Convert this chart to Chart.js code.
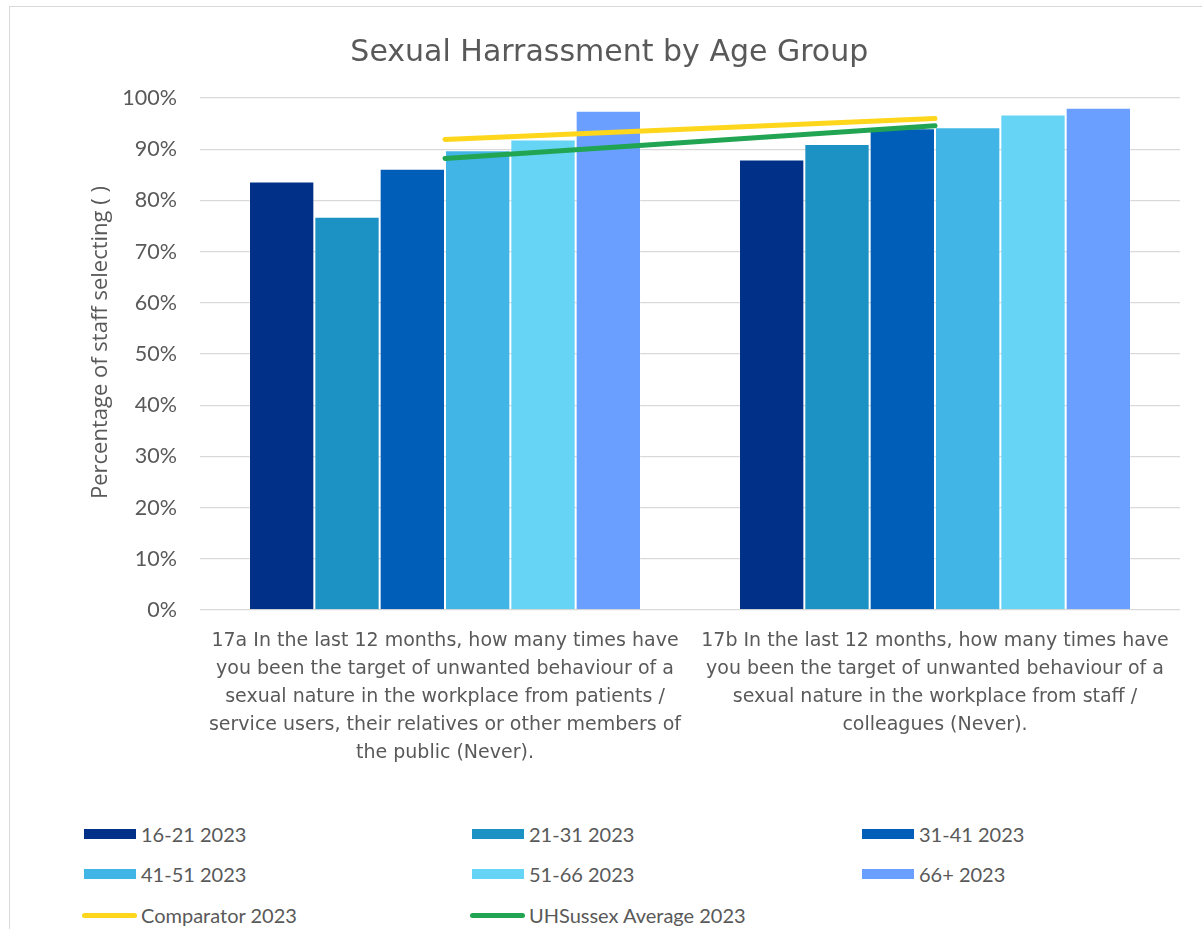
<!DOCTYPE html>
<html>
<head>
<meta charset="utf-8">
<script src="https://cdn.jsdelivr.net/npm/chart.js@4.4.1/dist/chart.umd.min.js"></script>
<style>
	body { margin: 0; background: #fff; overflow: hidden; }
	#frame {
		position: absolute; left: 9px; top: 6px; width: 1220px; height: 940px;
		border: 1px solid #d9d9d9; box-sizing: border-box;
	}
	#chartBox { position: absolute; left: 0; top: 0; width: 1192px; height: 800px; }
	#legend { position: absolute; left: 0; top: 0; width: 1192px; }
	.item {
		position: absolute; display: flex; align-items: center;
		font-family: Lato, sans-serif; font-size: 20px; color: #595959; white-space: nowrap;
	}
	.item .box { width: 52px; height: 10px; margin-right: 5px; }
	.item .ln { width: 55px; height: 5px; border-radius: 3px; margin-right: 4px; }
</style>
</head>
<body>
<div id="frame">
	<div id="chartBox"><canvas id="canvasAge"></canvas></div>
	<div id="legend"></div>
</div>
<script>
"use strict";

var questions = [
	['17a In the last 12 months, how many times have', 'you been the target of unwanted behaviour of a', 'sexual nature in the workplace from patients /', 'service users, their relatives or other members of', 'the public (Never).'],
	['17b In the last 12 months, how many times have', 'you been the target of unwanted behaviour of a', 'sexual nature in the workplace from staff /', 'colleagues (Never).']
];

var ageGroups = ['16-21 2023', '21-31 2023', '31-41 2023', '41-51 2023', '51-66 2023', '66+ 2023'];
var ageColors = ['#003087', '#1c91c4', '#005eb8', '#41b6e6', '#66d4f4', '#6a9fff'];

// percentages, one array per age group (17a, 17b)
var age16to21 = [83.7, 88.0];
var age21to31 = [76.8, 91.0];
var age31to41 = [86.2, 94.1];
var age41to51 = [89.8, 94.3];
var age51to66 = [91.9, 96.8];
var age66plus = [97.5, 98.1];
var ageValues = [age16to21, age21to31, age31to41, age41to51, age51to66, age66plus];

var comparator = [91.9, 96.0];
var uhsAverage = [88.2, 94.6];

var yTicks = [0, 10, 20, 30, 40, 50, 60, 70, 80, 90, 100];

function $each(arr, fn) {
	for (var i = 0; i < arr.length; i++) fn(i, arr[i]);
}

var datasets = [];
$each(ageGroups, function (index, name) {
	datasets.push({
		type: 'bar',
		label: name,
		data: ageValues[index],
		backgroundColor: ageColors[index],
		borderColor: 'rgba(255,255,255,0.25)',
		borderWidth: 1,
		categoryPercentage: 0.8,
		barPercentage: 1.0,
		order: 2
	});
});
datasets.push({
	type: 'line', label: 'Comparator 2023', data: comparator,
	borderColor: '#fed61b', backgroundColor: '#fed61b',
	borderWidth: 5, borderCapStyle: 'round', pointRadius: 0, order: 0
});
datasets.push({
	type: 'line', label: 'UHSussex Average 2023', data: uhsAverage,
	borderColor: '#22a553', backgroundColor: '#22a553',
	borderWidth: 5, borderCapStyle: 'round', pointRadius: 0, order: 1
});

var grey = '#595959';

const myChart = new Chart(document.getElementById('canvasAge'), {
	data: {
		labels: questions,
		datasets: datasets
	},
	options: {
		responsive: true,
		maintainAspectRatio: false,
		animation: false,
		layout: { padding: { left: 0, right: 22, top: 0, bottom: 0 } },
		plugins: {
			legend: { display: false },
			tooltip: { enabled: false },
			title: {
				display: true,
				text: '   Sexual Harrassment by Age Group',
				color: grey,
				font: { family: 'DejaVu Sans', size: 30, weight: 'normal', lineHeight: 1.2 },
				padding: { top: 28, bottom: 27 }
			}
		},
		scales: {
			x: {
				grid: { display: false },
				border: { display: false },
				ticks: {
					color: grey,
					font: { family: 'DejaVu Sans', size: 19, lineHeight: 1.47 },
					padding: 9,
					maxRotation: 0,
					autoSkip: false
				},
				afterFit: function (scale) { scale.height = 197; }
			},
			y: {
				min: 0,
				max: 100,
				afterBuildTicks: function (scale) {
					scale.ticks = yTicks.map(function (v) { return { value: v }; });
				},
				grid: { color: '#d9d9d9', lineWidth: 1.3, drawTicks: false },
				border: { display: false },
				ticks: {
					color: grey,
					font: { family: 'Lato', size: 21.5 },
					padding: 23,
					callback: function (v) { return v + '%'; }
				},
				title: {
					display: true,
					text: '    Percentage of staff selecting ( )',
					color: grey,
					font: { family: 'Open Sans', size: 22 },
					padding: { top: 78, bottom: 0 }
				},
				afterFit: function (scale) { scale.width = 190; }
			}
		}
	}
});

// legend in a 3 column grid, like the original
function BuildLegend() {
	var holder = document.getElementById('legend');
	var colLeft = [74, 462, 852];
	var rowMid = [827, 867, 908];
	$each(myChart.data.datasets, function (index, ds) {
		var item = document.createElement('div');
		item.className = 'item';
		var mark = document.createElement('span');
		mark.className = ds.type === 'line' ? 'ln' : 'box';
		mark.style.background = ds.type === 'line' ? ds.borderColor : ds.backgroundColor;
		var txt = document.createElement('span');
		txt.textContent = ds.label;
		item.appendChild(mark);
		item.appendChild(txt);
		var col = index % 3, row = Math.floor(index / 3);
		item.style.left = (ds.type === 'line' ? colLeft[col] - 2 : colLeft[col]) + 'px';
		item.style.top = (rowMid[row] - 12) + 'px';
		item.style.height = '24px';
		holder.appendChild(item);
	});
}
BuildLegend();
</script>
</body>
</html>
